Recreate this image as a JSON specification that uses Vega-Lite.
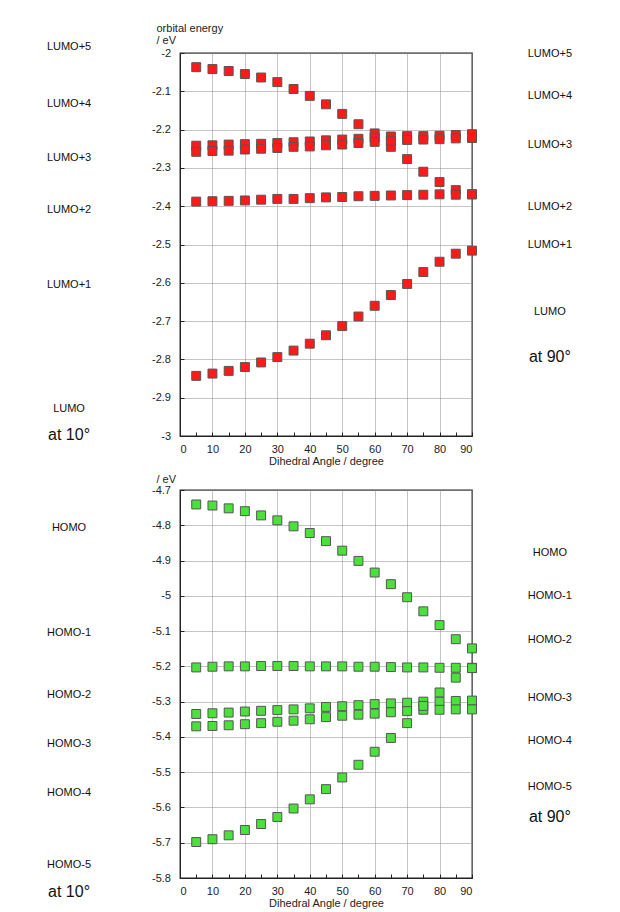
{
  "$schema": "https://vega.github.io/schema/vega-lite/v6.json",
  "background": "white",
  "padding": {"left": 46, "top": 21, "right": 40, "bottom": 10},
  "bounds": "flush",
  "spacing": 54,
  "config": {
    "font": "Liberation Sans",
    "view": {"stroke": "#222222", "strokeWidth": 1.3},
    "axis": {
      "gridColor": "#8a8a8a",
      "gridDash": [1, 1],
      "gridWidth": 1,
      "domainColor": "#222222",
      "tickColor": "#222222",
      "tickSize": -4,
      "labelFont": "Liberation Sans",
      "labelFontSize": 11,
      "labelColor": "#222222",
      "titleFont": "Liberation Sans",
      "titleFontSize": 11,
      "titleFontWeight": "normal",
      "titleColor": "#222222"
    },
    "text": {"font": "Liberation Sans", "color": "#111111"}
  },
  "datasets": {
    "lumo": [
      {"series": "A", "angle": 5, "energy": -2.037}, {"series": "A", "angle": 10, "energy": -2.042}, {"series": "A", "angle": 15, "energy": -2.047}, {"series": "A", "angle": 20, "energy": -2.055}, {"series": "A", "angle": 25, "energy": -2.064}, {"series": "A", "angle": 30, "energy": -2.076}, {"series": "A", "angle": 35, "energy": -2.094}, {"series": "A", "angle": 40, "energy": -2.112}, {"series": "A", "angle": 45, "energy": -2.134}, {"series": "A", "angle": 50, "energy": -2.159}, {"series": "A", "angle": 55, "energy": -2.186}, {"series": "A", "angle": 60, "energy": -2.210}, {"series": "A", "angle": 65, "energy": -2.245}, {"series": "A", "angle": 70, "energy": -2.277}, {"series": "A", "angle": 75, "energy": -2.310}, {"series": "A", "angle": 80, "energy": -2.337}, {"series": "A", "angle": 85, "energy": -2.358}, {"series": "A", "angle": 90, "energy": -2.369},
      {"series": "B", "angle": 5, "energy": -2.242}, {"series": "B", "angle": 10, "energy": -2.241}, {"series": "B", "angle": 15, "energy": -2.239}, {"series": "B", "angle": 20, "energy": -2.238}, {"series": "B", "angle": 25, "energy": -2.237}, {"series": "B", "angle": 30, "energy": -2.235}, {"series": "B", "angle": 35, "energy": -2.233}, {"series": "B", "angle": 40, "energy": -2.231}, {"series": "B", "angle": 45, "energy": -2.228}, {"series": "B", "angle": 50, "energy": -2.226}, {"series": "B", "angle": 55, "energy": -2.224}, {"series": "B", "angle": 60, "energy": -2.221}, {"series": "B", "angle": 65, "energy": -2.218}, {"series": "B", "angle": 70, "energy": -2.217}, {"series": "B", "angle": 75, "energy": -2.217}, {"series": "B", "angle": 80, "energy": -2.216}, {"series": "B", "angle": 85, "energy": -2.214}, {"series": "B", "angle": 90, "energy": -2.212},
      {"series": "C", "angle": 5, "energy": -2.258}, {"series": "C", "angle": 10, "energy": -2.256}, {"series": "C", "angle": 15, "energy": -2.255}, {"series": "C", "angle": 20, "energy": -2.252}, {"series": "C", "angle": 25, "energy": -2.250}, {"series": "C", "angle": 30, "energy": -2.248}, {"series": "C", "angle": 35, "energy": -2.245}, {"series": "C", "angle": 40, "energy": -2.244}, {"series": "C", "angle": 45, "energy": -2.241}, {"series": "C", "angle": 50, "energy": -2.239}, {"series": "C", "angle": 55, "energy": -2.235}, {"series": "C", "angle": 60, "energy": -2.232}, {"series": "C", "angle": 65, "energy": -2.229}, {"series": "C", "angle": 70, "energy": -2.227}, {"series": "C", "angle": 75, "energy": -2.226}, {"series": "C", "angle": 80, "energy": -2.225}, {"series": "C", "angle": 85, "energy": -2.223}, {"series": "C", "angle": 90, "energy": -2.222},
      {"series": "D", "angle": 5, "energy": -2.388}, {"series": "D", "angle": 10, "energy": -2.387}, {"series": "D", "angle": 15, "energy": -2.386}, {"series": "D", "angle": 20, "energy": -2.385}, {"series": "D", "angle": 25, "energy": -2.383}, {"series": "D", "angle": 30, "energy": -2.381}, {"series": "D", "angle": 35, "energy": -2.381}, {"series": "D", "angle": 40, "energy": -2.379}, {"series": "D", "angle": 45, "energy": -2.377}, {"series": "D", "angle": 50, "energy": -2.376}, {"series": "D", "angle": 55, "energy": -2.374}, {"series": "D", "angle": 60, "energy": -2.373}, {"series": "D", "angle": 65, "energy": -2.372}, {"series": "D", "angle": 70, "energy": -2.371}, {"series": "D", "angle": 75, "energy": -2.370}, {"series": "D", "angle": 80, "energy": -2.369}, {"series": "D", "angle": 85, "energy": -2.370}, {"series": "D", "angle": 90, "energy": -2.369},
      {"series": "E", "angle": 5, "energy": -2.843}, {"series": "E", "angle": 10, "energy": -2.837}, {"series": "E", "angle": 15, "energy": -2.830}, {"series": "E", "angle": 20, "energy": -2.820}, {"series": "E", "angle": 25, "energy": -2.808}, {"series": "E", "angle": 30, "energy": -2.794}, {"series": "E", "angle": 35, "energy": -2.777}, {"series": "E", "angle": 40, "energy": -2.759}, {"series": "E", "angle": 45, "energy": -2.737}, {"series": "E", "angle": 50, "energy": -2.713}, {"series": "E", "angle": 55, "energy": -2.688}, {"series": "E", "angle": 60, "energy": -2.660}, {"series": "E", "angle": 65, "energy": -2.632}, {"series": "E", "angle": 70, "energy": -2.603}, {"series": "E", "angle": 75, "energy": -2.572}, {"series": "E", "angle": 80, "energy": -2.545}, {"series": "E", "angle": 85, "energy": -2.524}, {"series": "E", "angle": 90, "energy": -2.516}
    ],
    "homo": [
      {"series": "H1", "angle": 5, "energy": -4.741}, {"series": "H1", "angle": 10, "energy": -4.744}, {"series": "H1", "angle": 15, "energy": -4.752}, {"series": "H1", "angle": 20, "energy": -4.760}, {"series": "H1", "angle": 25, "energy": -4.772}, {"series": "H1", "angle": 30, "energy": -4.786}, {"series": "H1", "angle": 35, "energy": -4.803}, {"series": "H1", "angle": 40, "energy": -4.822}, {"series": "H1", "angle": 45, "energy": -4.845}, {"series": "H1", "angle": 50, "energy": -4.872}, {"series": "H1", "angle": 55, "energy": -4.901}, {"series": "H1", "angle": 60, "energy": -4.934}, {"series": "H1", "angle": 65, "energy": -4.967}, {"series": "H1", "angle": 70, "energy": -5.004}, {"series": "H1", "angle": 75, "energy": -5.044}, {"series": "H1", "angle": 80, "energy": -5.083}, {"series": "H1", "angle": 85, "energy": -5.123}, {"series": "H1", "angle": 90, "energy": -5.149},
      {"series": "H2", "angle": 5, "energy": -5.203}, {"series": "H2", "angle": 10, "energy": -5.201}, {"series": "H2", "angle": 15, "energy": -5.200}, {"series": "H2", "angle": 20, "energy": -5.200}, {"series": "H2", "angle": 25, "energy": -5.199}, {"series": "H2", "angle": 30, "energy": -5.199}, {"series": "H2", "angle": 35, "energy": -5.199}, {"series": "H2", "angle": 40, "energy": -5.200}, {"series": "H2", "angle": 45, "energy": -5.200}, {"series": "H2", "angle": 50, "energy": -5.200}, {"series": "H2", "angle": 55, "energy": -5.201}, {"series": "H2", "angle": 60, "energy": -5.201}, {"series": "H2", "angle": 65, "energy": -5.202}, {"series": "H2", "angle": 70, "energy": -5.203}, {"series": "H2", "angle": 75, "energy": -5.203}, {"series": "H2", "angle": 80, "energy": -5.204}, {"series": "H2", "angle": 85, "energy": -5.204}, {"series": "H2", "angle": 90, "energy": -5.204},
      {"series": "H3", "angle": 5, "energy": -5.335}, {"series": "H3", "angle": 10, "energy": -5.333}, {"series": "H3", "angle": 15, "energy": -5.331}, {"series": "H3", "angle": 20, "energy": -5.328}, {"series": "H3", "angle": 25, "energy": -5.326}, {"series": "H3", "angle": 30, "energy": -5.324}, {"series": "H3", "angle": 35, "energy": -5.322}, {"series": "H3", "angle": 40, "energy": -5.319}, {"series": "H3", "angle": 45, "energy": -5.315}, {"series": "H3", "angle": 50, "energy": -5.313}, {"series": "H3", "angle": 55, "energy": -5.310}, {"series": "H3", "angle": 60, "energy": -5.307}, {"series": "H3", "angle": 65, "energy": -5.305}, {"series": "H3", "angle": 70, "energy": -5.303}, {"series": "H3", "angle": 75, "energy": -5.300}, {"series": "H3", "angle": 80, "energy": -5.300}, {"series": "H3", "angle": 85, "energy": -5.298}, {"series": "H3", "angle": 90, "energy": -5.297},
      {"series": "H4", "angle": 5, "energy": -5.370}, {"series": "H4", "angle": 10, "energy": -5.369}, {"series": "H4", "angle": 15, "energy": -5.367}, {"series": "H4", "angle": 20, "energy": -5.364}, {"series": "H4", "angle": 25, "energy": -5.361}, {"series": "H4", "angle": 30, "energy": -5.357}, {"series": "H4", "angle": 35, "energy": -5.354}, {"series": "H4", "angle": 40, "energy": -5.350}, {"series": "H4", "angle": 45, "energy": -5.344}, {"series": "H4", "angle": 50, "energy": -5.340}, {"series": "H4", "angle": 55, "energy": -5.337}, {"series": "H4", "angle": 60, "energy": -5.334}, {"series": "H4", "angle": 65, "energy": -5.330}, {"series": "H4", "angle": 70, "energy": -5.327}, {"series": "H4", "angle": 75, "energy": -5.323}, {"series": "H4", "angle": 80, "energy": -5.323}, {"series": "H4", "angle": 85, "energy": -5.322}, {"series": "H4", "angle": 90, "energy": -5.322},
      {"series": "H5", "angle": 5, "energy": -5.698}, {"series": "H5", "angle": 10, "energy": -5.690}, {"series": "H5", "angle": 15, "energy": -5.679}, {"series": "H5", "angle": 20, "energy": -5.664}, {"series": "H5", "angle": 25, "energy": -5.647}, {"series": "H5", "angle": 30, "energy": -5.627}, {"series": "H5", "angle": 35, "energy": -5.603}, {"series": "H5", "angle": 40, "energy": -5.577}, {"series": "H5", "angle": 45, "energy": -5.548}, {"series": "H5", "angle": 50, "energy": -5.515}, {"series": "H5", "angle": 55, "energy": -5.479}, {"series": "H5", "angle": 60, "energy": -5.442}, {"series": "H5", "angle": 65, "energy": -5.403}, {"series": "H5", "angle": 70, "energy": -5.361}, {"series": "H5", "angle": 75, "energy": -5.312}, {"series": "H5", "angle": 80, "energy": -5.274}, {"series": "H5", "angle": 85, "energy": -5.232}, {"series": "H5", "angle": 90, "energy": -5.205}
    ],
    "lumoLabels": [
      {"kind": "orbital", "angle": -34.2, "energy": -1.985, "label": "LUMO+5"},
      {"kind": "orbital", "angle": -34.2, "energy": -2.134, "label": "LUMO+4"},
      {"kind": "orbital", "angle": -34.2, "energy": -2.275, "label": "LUMO+3"},
      {"kind": "orbital", "angle": -34.2, "energy": -2.410, "label": "LUMO+2"},
      {"kind": "orbital", "angle": -34.2, "energy": -2.606, "label": "LUMO+1"},
      {"kind": "orbital", "angle": -34.2, "energy": -2.930, "label": "LUMO"},
      {"kind": "geometry", "angle": -34.2, "energy": -2.997, "label": "at 10°"},
      {"kind": "orbital", "angle": 114.0, "energy": -2.003, "label": "LUMO+5"},
      {"kind": "orbital", "angle": 114.0, "energy": -2.113, "label": "LUMO+4"},
      {"kind": "orbital", "angle": 114.0, "energy": -2.241, "label": "LUMO+3"},
      {"kind": "orbital", "angle": 114.0, "energy": -2.403, "label": "LUMO+2"},
      {"kind": "orbital", "angle": 114.0, "energy": -2.502, "label": "LUMO+1"},
      {"kind": "orbital", "angle": 114.0, "energy": -2.677, "label": "LUMO"},
      {"kind": "geometry", "angle": 114.0, "energy": -2.794, "label": "at 90°"}
    ],
    "homoLabels": [
      {"kind": "orbital", "angle": -34.2, "energy": -4.808, "label": "HOMO"},
      {"kind": "orbital", "angle": -34.2, "energy": -5.105, "label": "HOMO-1"},
      {"kind": "orbital", "angle": -34.2, "energy": -5.281, "label": "HOMO-2"},
      {"kind": "orbital", "angle": -34.2, "energy": -5.420, "label": "HOMO-3"},
      {"kind": "orbital", "angle": -34.2, "energy": -5.559, "label": "HOMO-4"},
      {"kind": "orbital", "angle": -34.2, "energy": -5.763, "label": "HOMO-5"},
      {"kind": "geometry", "angle": -34.2, "energy": -5.840, "label": "at 10°"},
      {"kind": "orbital", "angle": 114.0, "energy": -4.879, "label": "HOMO"},
      {"kind": "orbital", "angle": 114.0, "energy": -5.001, "label": "HOMO-1"},
      {"kind": "orbital", "angle": 114.0, "energy": -5.125, "label": "HOMO-2"},
      {"kind": "orbital", "angle": 114.0, "energy": -5.290, "label": "HOMO-3"},
      {"kind": "orbital", "angle": 114.0, "energy": -5.412, "label": "HOMO-4"},
      {"kind": "orbital", "angle": 114.0, "energy": -5.542, "label": "HOMO-5"},
      {"kind": "geometry", "angle": 114.0, "energy": -5.627, "label": "at 90°"}
    ]
  },
  "vconcat": [
    {
      "width": 292,
      "height": 383,
      "encoding": {
        "x": {"field": "angle", "type": "quantitative", "scale": {"domain": [0, 90], "nice": false, "zero": false},
          "axis": {"values": [0,5,10,15,20,25,30,35,40,45,50,55,60,65,70,75,80,85,90], "labelExpr": "datum.value % 10 === 0 ? datum.label : ''", "gridOpacity": {"condition": {"test": "datum.value % 10 !== 0", "value": 0}, "value": 1}, "labelPadding": 11, "titlePadding": 1, "title": "Dihedral Angle / degree"}},
        "y": {"field": "energy", "type": "quantitative", "scale": {"domain": [-3, -2], "nice": false, "zero": false},
          "axis": {"values": [-3,-2.9,-2.8,-2.7,-2.6,-2.5,-2.4,-2.3,-2.2,-2.1,-2], "labelExpr": "replace(format(datum.value, '.1~f'), '−', '-')", "labelPadding": 13.5, "title": ["orbital energy", "/ eV"], "titleAngle": 0, "titleAlign": "left", "titleBaseline": "alphabetic", "titleX": -24, "titleY": -22, "titleLineHeight": 12}}
      },
      "layer": [
        {"data": {"name": "lumo"}, "mark": {"type": "square", "size": 80, "filled": true, "color": "#ff1a1a", "stroke": "#555555", "strokeWidth": 1, "opacity": 1}},
        {"data": {"name": "lumoLabels"}, "transform": [{"filter": "datum.kind === 'orbital'"}], "mark": {"type": "text", "fontSize": 11}, "encoding": {"text": {"field": "label"}}},
        {"data": {"name": "lumoLabels"}, "transform": [{"filter": "datum.kind === 'geometry'"}], "mark": {"type": "text", "fontSize": 16}, "encoding": {"text": {"field": "label"}}}
      ]
    },
    {
      "width": 292,
      "height": 388,
      "encoding": {
        "x": {"field": "angle", "type": "quantitative", "scale": {"domain": [0, 90], "nice": false, "zero": false},
          "axis": {"values": [0,5,10,15,20,25,30,35,40,45,50,55,60,65,70,75,80,85,90], "labelExpr": "datum.value % 10 === 0 ? datum.label : ''", "gridOpacity": {"condition": {"test": "datum.value % 10 !== 0", "value": 0}, "value": 1}, "labelPadding": 11, "titlePadding": 1, "title": "Dihedral Angle / degree"}},
        "y": {"field": "energy", "type": "quantitative", "scale": {"domain": [-5.8, -4.7], "nice": false, "zero": false},
          "axis": {"values": [-5.8,-5.7,-5.6,-5.5,-5.4,-5.3,-5.2,-5.1,-5,-4.9,-4.8,-4.7], "labelExpr": "replace(format(datum.value, '.1~f'), '−', '-')", "labelPadding": 13.5, "title": "/ eV", "titleAngle": 0, "titleAlign": "left", "titleBaseline": "alphabetic", "titleX": -24, "titleY": -8}}
      },
      "layer": [
        {"data": {"name": "homo"}, "mark": {"type": "square", "size": 80, "filled": true, "color": "#4ce03c", "stroke": "#555555", "strokeWidth": 1, "opacity": 1}},
        {"data": {"name": "homoLabels"}, "transform": [{"filter": "datum.kind === 'orbital'"}], "mark": {"type": "text", "fontSize": 11}, "encoding": {"text": {"field": "label"}}},
        {"data": {"name": "homoLabels"}, "transform": [{"filter": "datum.kind === 'geometry'"}], "mark": {"type": "text", "fontSize": 16}, "encoding": {"text": {"field": "label"}}}
      ]
    }
  ]
}
